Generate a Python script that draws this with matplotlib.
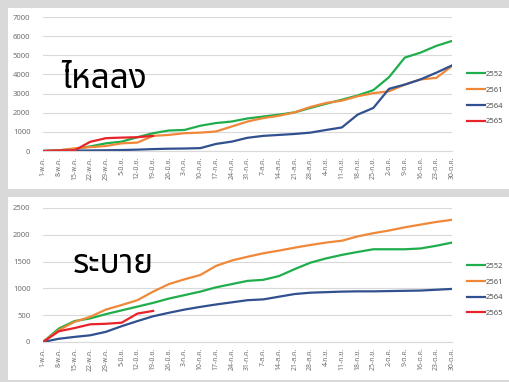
import matplotlib
matplotlib.use("Agg")
import matplotlib.pyplot as plt
from matplotlib.patches import Rectangle

plt.rcParams['font.family'] = ['Noto Sans Thai', 'DejaVu Sans']

dates = ["1-พ.ค.", "8-พ.ค.", "15-พ.ค.", "22-พ.ค.", "29-พ.ค.", "5-มิ.ย.", "12-มิ.ย.",
         "19-มิ.ย.", "26-มิ.ย.", "3-ก.ค.", "10-ก.ค.", "17-ก.ค.", "24-ก.ค.", "31-ก.ค.",
         "7-ส.ค.", "14-ส.ค.", "21-ส.ค.", "28-ส.ค.", "4-ก.ย.", "11-ก.ย.", "18-ก.ย.",
         "25-ก.ย.", "2-ต.ค.", "9-ต.ค.", "16-ต.ค.", "23-ต.ค.", "30-ต.ค."]
years = ["2552", "2561", "2564", "2565"]
colors = ["#1fae4b", "#f0883a", "#30508f", "#e8232a"]

# ไหลลง (inflow), weekly
inflow_2552 = [0, 40, 100, 240, 400, 490, 720, 930, 1070, 1100, 1320, 1460, 1540, 1700,
               1800, 1900, 2020, 2250, 2470, 2680, 2900, 3180, 3860, 4880, 5140, 5490, 5750]
inflow_2561 = [0, 30, 140, 200, 260, 400, 440, 790, 840, 930, 960, 1020, 1280, 1540,
               1720, 1840, 2020, 2300, 2510, 2630, 2860, 3020, 3120, 3470, 3740, 3820, 4440]
inflow_2564 = [0, 10, 20, 30, 40, 50, 70, 100, 120, 130, 150, 370, 490, 690,
               790, 840, 890, 960, 1100, 1230, 1900, 2250, 3250, 3470, 3740, 4090, 4470]
inflow_2565 = [0, 20, 30, 480, 670, 700, 720, 790]

# ระบาย (release), weekly
release_2552 = [0, 250, 390, 440, 520, 590, 660, 730, 810, 875, 940, 1020, 1080, 1140,
                1160, 1230, 1360, 1480, 1560, 1625, 1680, 1730, 1730, 1730, 1745, 1795, 1855]
release_2561 = [0, 220, 375, 470, 605, 690, 780, 940, 1080, 1170, 1250, 1420, 1520, 1590,
                1655, 1705, 1760, 1810, 1855, 1890, 1970, 2030, 2080, 2140, 2190, 2240, 2280]
release_2564 = [0, 60, 95, 125, 190, 295, 390, 480, 545, 605, 655, 700, 740, 780,
                795, 845, 895, 920, 930, 940, 945, 945, 950, 955, 960, 975, 990]
release_2565 = [0, 200, 260, 330, 340, 360, 530, 580]

fig = plt.figure(figsize=(5.1, 3.82), dpi=100)
fig.patch.set_facecolor("#d9d9d9")
fig.patches.append(Rectangle((8 / 510, 1 - 189 / 382), 502 / 510, 181 / 382,
                             transform=fig.transFigure, facecolor="white", edgecolor="none", zorder=-10))
fig.patches.append(Rectangle((8 / 510, 1 - 380 / 382), 502 / 510, 183 / 382,
                             transform=fig.transFigure, facecolor="white", edgecolor="none", zorder=-10))


def draw(ax, series, ymax, step, title, tx, ty, legend_y):
    for name, vals, c in zip(years, series, colors):
        ax.plot(range(len(vals)), vals, color=c, lw=1.6, label=name)
    ax.set_xlim(0, len(dates) - 1)
    ax.set_ylim(0, ymax)
    ax.set_yticks(range(0, ymax + 1, step))
    ax.set_xticks(range(len(dates)))
    ax.set_xticklabels(dates, rotation=90, fontsize=5, color="#707070")
    ax.tick_params(axis="y", labelsize=5.5, labelcolor="#707070", length=0, pad=9)
    ax.tick_params(axis="x", length=0, pad=4)
    ax.grid(axis="y", color="#d9d9d9", lw=0.8)
    ax.set_axisbelow(True)
    for s in ["top", "right", "left"]:
        ax.spines[s].set_visible(False)
    ax.spines["bottom"].set_color("#d9d9d9")
    ax.set_facecolor("none")
    ax.text(tx, ty, title, transform=ax.transAxes, fontsize=24, color="black",
            va="baseline", fontweight="light")
    ax.legend(loc="center left", bbox_to_anchor=(1.02, legend_y), frameon=False,
              fontsize=5.5, handlelength=2.3, handletextpad=0.1, labelspacing=1.1,
              labelcolor="#505050")


ax1 = fig.add_axes([43 / 510, 1 - 151 / 382, 409 / 510, 134 / 382])
draw(ax1, [inflow_2552, inflow_2561, inflow_2564, inflow_2565], 7000, 1000,
     "ไหลลง", 0.044, 0.47, 0.395)

ax2 = fig.add_axes([43 / 510, 1 - 342 / 382, 409 / 510, 134 / 382])
draw(ax2, [release_2552, release_2561, release_2564, release_2565], 2500, 500,
     "ระบาย", 0.072, 0.515, 0.39)

fig.savefig("out.png", dpi=100, facecolor=fig.get_facecolor())
